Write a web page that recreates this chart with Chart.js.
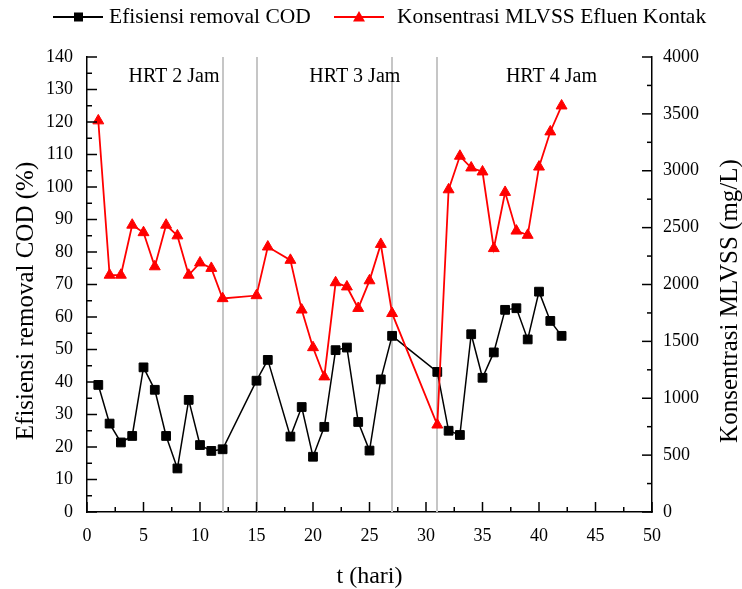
<!DOCTYPE html>
<html><head><meta charset="utf-8">
<script src="https://cdn.jsdelivr.net/npm/chart.js@4.4.1/dist/chart.umd.min.js"></script>
<style>html,body{margin:0;padding:0;background:#fff;}#wrap{width:742px;height:589px;}</style>
</head><body><div id="wrap"><canvas id="c" width="742" height="589"></canvas></div>
<script>
// ---- data ----
const days = [1,2,3,4,5,6,7,8,9,10,11,12,15,16,18,19,20,21,22,23,24,25,26,27,31,32,33,34,35,36,37,38,39,40,41,42];
const codRemoval = [39.1,27.2,21.4,23.4,44.5,37.6,23.4,13.4,34.5,20.6,18.8,19.3,40.4,46.8,23.2,32.3,17.0,26.2,49.8,50.6,27.7,18.9,40.8,54.2,43.1,25.0,23.7,54.7,41.3,49.1,62.2,62.7,53.1,67.8,58.8,54.2];
const mlvss = [3440,2083,2083,2523,2457,2157,2523,2429,2083,2191,2143,1877,1903,2331,2214,1777,1446,1189,2017,1980,1791,2034,2354,1746,766,2834,3129,3026,2991,2317,2811,2471,2434,3034,3343,3571];
const xTicks = [0,5,10,15,20,25,30,35,40,45,50];
const leftTicks = [0,10,20,30,40,50,60,70,80,90,100,110,120,130,140];
const rightTicks = [0,500,1000,1500,2000,2500,3000,3500,4000];
const hrtBoundaries = [12,15,27,31];
const hrtLabels = ['HRT 2 Jam','HRT 3 Jam','HRT 4 Jam'];
const hrtLabelX = [7.7,23.7,41.1];
const hrtLabelY = 133.8;
const seriesNames = ['Efisiensi removal COD','Konsentrasi MLVSS Efluen Kontak'];
const axisTitles = {x:'t (hari)', left:'Efisiensi removal COD (%)', right:'Konsentrasi MLVSS (mg/L)'};

const FONT = "'Liberation Serif', 'Times New Roman', serif";
Chart.defaults.font.family = FONT;
Chart.defaults.color = '#000';

function fixedTicks(arr){ return s => { s.ticks = arr.map(v => ({value:v})); }; }

const deco = {
  id:'deco',
  beforeDatasetsDraw(chart){
    const {ctx, chartArea:a, scales:{x}} = chart;
    ctx.save();
    ctx.strokeStyle = '#c6c6c6'; ctx.lineWidth = 2;
    hrtBoundaries.forEach(d => {
      const px = Math.round(x.getPixelForValue(d));
      ctx.beginPath(); ctx.moveTo(px, a.top); ctx.lineTo(px, a.bottom); ctx.stroke();
    });
    ctx.restore();
  },
  afterDraw(chart){
    const {ctx, chartArea:a, scales:{x, yL, yR}} = chart;
    ctx.save();
    ctx.strokeStyle = '#000'; ctx.lineWidth = 1.5;
    for (let v = 0; v <= 50.001; v += 2.5) {
      const px = x.getPixelForValue(v); const len = (Math.abs(v/5 - Math.round(v/5)) < 1e-6) ? 10 : 5;
      ctx.beginPath(); ctx.moveTo(px, a.bottom); ctx.lineTo(px, a.bottom - len); ctx.stroke();
    }
    for (let v = 0; v <= 140.001; v += 5) {
      const py = yL.getPixelForValue(v); const len = (v % 10 === 0) ? 10 : 5;
      ctx.beginPath(); ctx.moveTo(a.left, py); ctx.lineTo(a.left + len, py); ctx.stroke();
    }
    for (let v = 0; v <= 4000.001; v += 250) {
      const py = yR.getPixelForValue(v); const len = (v % 500 === 0) ? 10 : 5;
      ctx.beginPath(); ctx.moveTo(a.right, py); ctx.lineTo(a.right - len, py); ctx.stroke();
    }
    // HRT labels
    ctx.fillStyle = '#000'; ctx.font = '20px ' + FONT; ctx.textAlign = 'center'; ctx.textBaseline = 'middle';
    hrtLabels.forEach((t,i) => ctx.fillText(t, x.getPixelForValue(hrtLabelX[i]), yL.getPixelForValue(hrtLabelY)));
    // axis titles (both read bottom-to-top)
    ctx.font = '25px ' + FONT;
    [[axisTitles.left, 26], [axisTitles.right, 730]].forEach(([t, cx]) => {
      ctx.save();
      ctx.translate(cx, 301); ctx.rotate(-Math.PI/2);
      ctx.fillText(t, 0, 0);
      ctx.restore();
    });
    // legend
    const ly = 17;
    ctx.font = '21.5px ' + FONT; ctx.textAlign = 'left'; ctx.textBaseline = 'middle';
    ctx.strokeStyle = '#000'; ctx.lineWidth = 2;
    ctx.beginPath(); ctx.moveTo(53, ly); ctx.lineTo(103, ly); ctx.stroke();
    ctx.fillStyle = '#000'; ctx.fillRect(74, ly-4.5, 9, 9);
    ctx.fillText(seriesNames[0], 109, ly);
    ctx.strokeStyle = '#ff0000';
    ctx.beginPath(); ctx.moveTo(334, ly); ctx.lineTo(384, ly); ctx.stroke();
    ctx.fillStyle = '#ff0000';
    ctx.beginPath(); ctx.moveTo(359, ly-6); ctx.lineTo(365, ly+4.5); ctx.lineTo(353, ly+4.5); ctx.closePath(); ctx.fill();
    ctx.fillStyle = '#000';
    ctx.fillText(seriesNames[1], 397, ly);
    ctx.restore();
  }
};

new Chart(document.getElementById('c'), {
  type:'line',
  data:{datasets:[
    {label:seriesNames[0], data:days.map((d,i)=>({x:d,y:codRemoval[i]})), yAxisID:'yL',
     borderColor:'#000', backgroundColor:'#000', borderWidth:1.5, pointStyle:'rect', pointRadius:6.2,
     pointBorderWidth:1, pointBorderColor:'#000', pointBackgroundColor:'#000', tension:0, order:2},
    {label:seriesNames[1], data:days.map((d,i)=>({x:d,y:mlvss[i]})), yAxisID:'yR',
     borderColor:'#ff0000', backgroundColor:'#ff0000', borderWidth:1.8, pointStyle:'triangle', pointRadius:6.3,
     pointBorderWidth:1, pointBorderColor:'#ff0000', pointBackgroundColor:'#ff0000', tension:0, order:1}
  ]},
  options:{
    responsive:false, animation:false, devicePixelRatio:1,
    layout:{padding:{top:57,left:0,right:0,bottom:0}},
    plugins:{legend:{display:false}, tooltip:{enabled:false}},
    scales:{
      x:{type:'linear', position:'bottom', min:0, max:50, afterBuildTicks:fixedTicks(xTicks),
         ticks:{padding:13, font:{size:18}, color:'#000', maxRotation:0, autoSkip:false, callback:v=>String(v)},
         grid:{display:true, drawOnChartArea:false, drawTicks:false}, border:{color:'#000', width:1.5},
         title:{display:true, text:axisTitles.x, font:{size:24, lineHeight:1}, color:'#000', padding:{top:0,bottom:0}},
         afterFit(s){ s.height = 77; }},
      yL:{type:'linear', position:'left', min:0, max:140, afterBuildTicks:fixedTicks(leftTicks),
         ticks:{padding:14, font:{size:18}, color:'#000', autoSkip:false, callback:v=>String(v)},
         grid:{display:true, drawOnChartArea:false, drawTicks:false}, border:{color:'#000', width:1.5},
         title:{display:false},
         afterFit(s){ s.width = 87; }},
      yR:{type:'linear', position:'right', min:0, max:4000, afterBuildTicks:fixedTicks(rightTicks),
         ticks:{padding:11, font:{size:18}, color:'#000', autoSkip:false, callback:v=>String(v)},
         grid:{display:true, drawOnChartArea:false, drawTicks:false}, border:{color:'#000', width:1.5},
         title:{display:false},
         afterFit(s){ s.width = 90; }}
    }
  },
  plugins:[deco]
});
</script></body></html>
